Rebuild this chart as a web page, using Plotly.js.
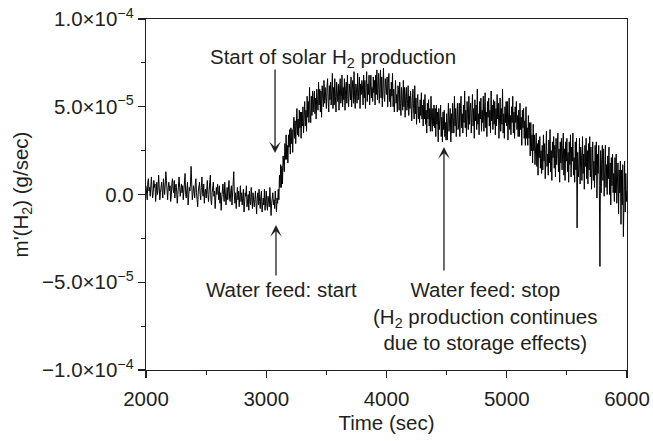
<!DOCTYPE html>
<html>
<head>
<meta charset="utf-8">
<script src="https://cdn.plot.ly/plotly-3.0.1.min.js"></script>
<style>html,body{margin:0;padding:0;background:#fff;}#chart{width:653px;height:441px;}</style>
</head>
<body>
<div id="chart"></div>
<script>
// Time axis: first sample and step (seconds)
const timeStart = 2000;
const timeStep = 5;

// m'(H2) in units of 1e-6 g/sec, one value per 5 s from 2000 s to 6000 s (one row = 100 s)
const baselineVals = [
  5, 1, -3, 7, 9, 2, 4, -1, 6, 10, 3, -2, 1, 8, 4, 6, -4, 2, 7, 0,
  3, 11, 6, -3, 1, 5, 7, 2, -2, 9, 4, 0, 6, 13, 8, 1, -3, 4, 7, 2,
  5, -4, -1, 6, 9, 3, 1, 8, -2, 4, 6, 2, -5, 0, 7, 10, 4, -1, 3, 6,
  1, 5, -3, 2, 9, 12, 0, -2, 3, 7, -6, -1, 4, 2, 6, 16, 8, -3, 0, 5,
  3, -2, 6, 9, 1, -4, -7, 2, 5, 7, 0, -3, 4, 10, 2, -1, 6, -5, 1, 3,
  -2, 4, 8, 0, -4, 2, 5, 11, -3, -6, 1, 3, 7, -1, 2, -8, -3, 4, 0, 6,
  2, -3, 5, -5, 1, -9, -2, 3, 6, 0, -4, 7, 2, -6, -1, 4, -3, 1, 8, -2,
  -4, 2, 5, -6, 0, 3, 13, -1, -5, 1, -8, -2, 4, -3, 2, -7, 0, 5, -4, 1,
  -6, -2, 3, -10, -4, 1, -1, 5, -7, -3, 0, -9, 2, -4, -6, 4, -2, -8, 1, -5,
  -7, -3, 2, -5, -11, -2, 1, -6, 3, -4, -8, -1, 2, -10, -5, -2, -6, 3, -9, -4,
  2, -6, -9, -1, -3, -7, 4, -2, -12, -5, -1, 1, -6, -3, -8, 2, -4, -10, -2, -5
];
const riseVals = [
  3, -3, 11, 4, 17, 4, 16, 6, 22, 19, 13, 29, 20, 34, 20, 28, 18, 34, 27, 37,
  23, 38, 29, 37, 24, 37, 44, 32, 42, 29, 40, 49, 34, 43, 33, 48, 38, 47, 32, 47,
  39, 50, 35, 47, 53, 39, 48, 36, 56, 44, 53, 41, 61, 47, 41, 56, 45, 59, 47, 54,
  59, 46, 55, 43, 60, 54, 48, 64, 51, 60, 47, 59, 44, 62, 58, 50, 65, 52, 61, 50
];
const plateauVals = [
  49, 61, 66, 53, 47, 62, 54, 64, 51, 59, 69, 49, 61, 51, 66, 56, 47, 64, 59, 53,
  63, 48, 60, 66, 52, 56, 68, 50, 61, 54, 66, 48, 60, 64, 52, 68, 56, 50, 63, 59,
  54, 67, 50, 60, 65, 52, 70, 55, 49, 63, 60, 52, 69, 54, 62, 67, 49, 63, 57, 65,
  62, 51, 68, 55, 65, 49, 61, 70, 53, 63, 57, 68, 51, 65, 68, 55, 61, 53, 67, 58,
  65, 51, 68, 57, 71, 54, 62, 69, 52, 64, 71, 55, 67, 50, 63, 72, 56, 53, 66, 58
];
const declineVals = [
  57, 67, 50, 63, 69, 53, 60, 50, 64, 56, 69, 50, 60, 47, 62, 65, 52, 57, 47, 62,
  60, 48, 64, 52, 45, 61, 56, 48, 65, 50, 61, 44, 56, 61, 48, 52, 62, 45, 56, 49,
  59, 47, 42, 55, 60, 49, 43, 62, 46, 55, 40, 52, 57, 43, 50, 41, 54, 45, 58, 43,
  51, 39, 54, 43, 57, 40, 48, 35, 52, 43, 54, 39, 49, 36, 56, 43, 36, 49, 39, 51,
  38, 49, 33, 51, 40, 47, 30, 49, 37, 44, 51, 33, 44, 30, 47, 37, 48, 33, 41, 31
];
const storageVals = [
  46, 31, 43, 52, 36, 40, 49, 30, 46, 35, 52, 44, 35, 56, 39, 49, 33, 44, 52, 37,
  40, 52, 33, 49, 56, 38, 46, 35, 51, 41, 59, 38, 48, 33, 53, 46, 37, 56, 40, 49,
  52, 35, 47, 57, 39, 49, 32, 54, 42, 51, 37, 60, 40, 46, 34, 53, 43, 55, 36, 48,
  41, 56, 36, 50, 58, 38, 47, 33, 53, 44, 55, 39, 48, 35, 59, 42, 51, 37, 54, 40,
  53, 34, 49, 39, 57, 43, 52, 32, 48, 55, 36, 49, 40, 60, 35, 46, 32, 50, 41, 53,
  39, 53, 31, 47, 55, 37, 45, 34, 50, 41, 56, 35, 47, 32, 50, 41, 53, 37, 45, 33
];
const dropVals = [
  48, 33, 52, 37, 44, 28, 48, 38, 49, 32, 42, 28, 50, 32, 38, 28, 45, 32, 41, 22,
  41, 25, 34, 18, 40, 25, 34, 17, 27, 35, 16, 29, 11, 31, 21, 33, 15, 25, 12, 28
];
const tailVals = [
  14, 34, 19, 29, 9, 26, 36, 16, 23, 11, 31, 18, 37, 13, 25, 8, 30, 21, 33, 15,
  28, 10, 32, 17, 24, 35, 13, 26, 7, 30, 18, 32, 14, 22, 35, 11, 26, 8, 30, 19,
  32, 13, 24, 7, 30, 17, 34, 10, 27, 19, 35, 11, 21, 7, 30, 14, 32, -19, 24, 10,
  15, 32, 6, 27, 22, 8, 33, 12, 23, 3, 28, 16, 32, 9, 25, 6, 29, 14, 33, 10,
  27, 3, 23, 30, 8, 19, 4, 28, 11, 30, -2, 23, 12, 28, 5, -41, 25, 1, 21, 28,
  8, 26, -1, 19, 28, 4, 17, 0, 22, 9, 27, 0, 18, -6, 21, 5, 23, 1, 12, -4,
  21, 1, 23, -5, 12, 18, -11, 14, 1, 19, -17, 14, -6, 17, -24, 10, 19, -10, 12, -4,
  2
];
const h2Rate = [].concat(baselineVals, riseVals, plateauVals, declineVals, storageVals, dropVals, tailVals);

// Axis ticks
const yTickVals = [-100, -50, 0, 50, 100];
const yTickText = ['\u22121.0\u00d710<sup>\u22124</sup>', '\u22125.0\u00d710<sup>\u22125</sup>', '0.0', '5.0\u00d710<sup>\u22125</sup>', '1.0\u00d710<sup>\u22124</sup>'];
const yMinorVals = [-75, -25, 25, 75];

const ink = '#231f20';
const fnt = {family: '"Liberation Sans", Arial, Helvetica, sans-serif', size: 20.5, color: ink};

const trace = {
  type: 'scatter', mode: 'lines',
  x0: timeStart, dx: timeStep, y: h2Rate,
  line: {color: '#000', width: 1}, hoverinfo: 'none'
};

const arrowStyle = {showarrow: true, arrowhead: 3, arrowsize: 1.5, arrowwidth: 1.3, arrowcolor: ink, axref: 'pixel', ayref: 'pixel', text: '', ax: 0};

const layout = {
  width: 653, height: 441,
  margin: {l: 146, r: 26, t: 19, b: 71},
  paper_bgcolor: '#fff', plot_bgcolor: '#fff',
  showlegend: false,
  font: fnt,
  xaxis: {
    range: [2000, 6000], tickmode: 'linear', tick0: 2000, dtick: 1000,
    ticks: 'outside', ticklen: 7, tickwidth: 1.2, tickcolor: ink,
    showline: true, linecolor: ink, linewidth: 1.2, mirror: true,
    showgrid: false, zeroline: false, tickfont: fnt, ticklabelstandoff: 3,
    minor: {dtick: 500, ticks: 'outside', ticklen: 4, tickwidth: 1.2, tickcolor: ink, showgrid: false},
    title: {text: 'Time (sec)', font: fnt, standoff: 6}
  },
  yaxis: {
    range: [-100, 100], tickmode: 'array', tickvals: yTickVals, ticktext: yTickText,
    ticks: 'outside', ticklen: 7, tickwidth: 1.2, tickcolor: ink,
    showline: true, linecolor: ink, linewidth: 1.2, mirror: true,
    showgrid: false, zeroline: false, tickfont: fnt,
    minor: {tickvals: yMinorVals, ticks: 'outside', ticklen: 4, tickwidth: 1.2, tickcolor: ink, showgrid: false},
    title: {text: "m'(H<sub>2</sub>) (g/sec)", font: fnt, standoff: 8}
  },
  annotations: [
    Object.assign({}, arrowStyle, {x: 3073, y: 23.6, ay: -85}),
    Object.assign({}, arrowStyle, {x: 3081, y: -17.4, ay: 52}),
    Object.assign({}, arrowStyle, {x: 4478, y: 27, ay: 125}),
    {x: 3555, y: 77.8, text: 'Start of solar H<sub>2</sub> production', showarrow: false, font: fnt, xanchor: 'center', yanchor: 'middle'},
    {x: 3123, y: -54.4, text: 'Water feed: start', showarrow: false, font: fnt, xanchor: 'center', yanchor: 'middle'},
    {x: 4827, y: -69.4, text: 'Water feed: stop<br>(H<sub>2</sub> production continues<br>due to storage effects)', showarrow: false, font: fnt, xanchor: 'center', yanchor: 'middle', align: 'center'}
  ]
};

Plotly.newPlot('chart', [trace], layout, {staticPlot: true, displayModeBar: false});
</script>
</body>
</html>
